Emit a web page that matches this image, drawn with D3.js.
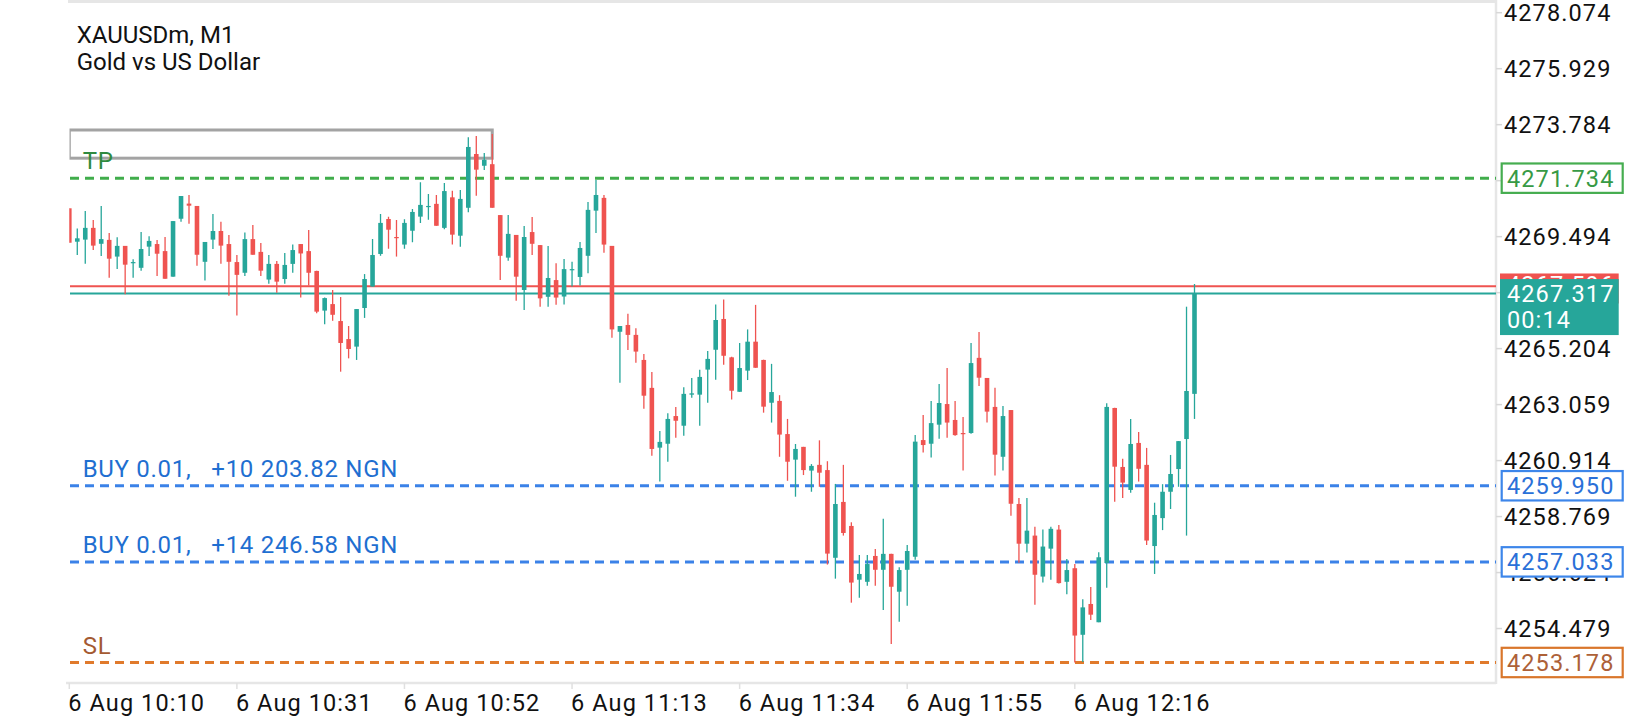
<!DOCTYPE html>
<html>
<head>
<meta charset="utf-8">
<script src="https://cdn.jsdelivr.net/npm/d3@7"></script>
<style>
html,body{margin:0;padding:0;background:#fff;}
text{font-family:Roboto,"Noto Sans",sans-serif;}
</style>
</head>
<body>
<svg id="chart" width="1640" height="720"></svg>
<script>
// M1 candles, 6 Aug 10:10 -> 12:31
var openP=[4270.58,4269.30,4269.38,4269.83,4269.22,4269.37,4268.73,4269.14,4268.50,4268.30,
4269.11,4269.21,4268.94,4267.96,4270.18,4270.76,4270.67,4268.53,4269.38,4269.71,
4269.21,4268.52,4268.11,4269.40,4268.91,4267.85,4268.45,4267.87,4268.45,4269.21,
4268.94,4268.18,4266.66,4266.91,4266.26,4265.57,4265.28,4266.76,4267.58,4268.83,
4270.17,4269.48,4269.19,4269.72,4270.26,4270.64,4270.75,4269.83,4271.00,4269.53,
4270.60,4272.66,4272.21,4272.27,4270.32,4268.69,4269.56,4267.45,4269.67,4269.17,
4267.19,4267.83,4267.20,4268.23,4267.95,4268.76,4270.49,4270.98,4269.14,4265.85,
4266.11,4265.73,4264.77,4263.70,4261.41,4261.56,4262.62,4262.25,4263.44,4263.44,
4264.40,4265.16,4266.34,4264.87,4263.55,4264.36,4265.47,4264.77,4263.13,4263.20,
4261.93,4260.95,4261.44,4260.53,4260.75,4260.55,4257.19,4259.33,4258.41,4256.35,
4256.27,4257.26,4256.73,4257.34,4255.89,4256.73,4257.23,4261.70,4261.56,4262.29,
4263.08,4262.47,4261.97,4261.97,4264.85,4264.08,4262.97,4261.06,4262.85,4259.25,
4257.73,4258.04,4256.47,4257.54,4258.27,4256.27,4256.79,4254.24,4255.42,4254.72,
4256.99,4262.93,4260.67,4259.79,4261.59,4260.75,4257.64,4258.71,4259.72,4260.59,
4261.74,4263.47];
var highP=[4270.58,4269.81,4270.48,4270.13,4270.67,4269.63,4269.47,4269.14,4268.63,4269.67,
4269.51,4269.37,4269.48,4270.09,4271.05,4271.09,4270.67,4269.29,4270.36,4270.06,
4269.56,4268.79,4269.65,4269.94,4269.25,4268.79,4268.56,4268.87,4269.19,4269.21,
4269.75,4268.19,4267.16,4267.45,4267.18,4266.07,4266.72,4268.06,4269.40,4270.36,
4270.26,4270.13,4270.16,4270.55,4271.58,4271.13,4271.09,4271.55,4271.25,4271.28,
4273.30,4273.35,4272.70,4273.43,4270.32,4270.32,4269.56,4269.90,4270.25,4269.17,
4269.14,4268.47,4268.64,4268.53,4269.29,4270.82,4271.66,4271.09,4269.14,4266.07,
4266.54,4265.98,4265.00,4264.31,4262.05,4262.73,4262.97,4263.72,4264.08,4264.39,
4265.11,4266.89,4267.09,4264.89,4265.42,4265.94,4266.88,4264.78,4264.62,4263.42,
4262.51,4261.55,4261.44,4260.78,4261.69,4260.89,4260.02,4260.75,4258.55,4257.30,
4257.30,4257.53,4258.69,4257.34,4256.83,4257.68,4261.89,4262.66,4263.20,4263.85,
4264.46,4263.20,4262.58,4265.42,4265.84,4264.08,4263.70,4263.01,4262.85,4259.48,
4259.48,4258.38,4258.27,4258.38,4258.45,4257.14,4256.95,4255.60,4256.07,4257.40,
4263.11,4262.94,4260.98,4262.51,4262.01,4261.40,4259.30,4260.01,4261.13,4261.66,
4266.81,4267.68];
var lowP=[4269.26,4268.79,4268.46,4268.98,4268.75,4267.92,4268.25,4267.29,4267.92,4268.19,
4268.75,4267.99,4267.88,4267.96,4270.06,4269.99,4268.38,4267.81,4269.02,4268.46,
4267.23,4266.47,4267.99,4268.80,4267.99,4267.69,4267.34,4267.69,4268.11,4267.16,
4267.62,4266.56,4266.14,4266.27,4264.32,4264.83,4264.77,4266.38,4267.58,4268.76,
4269.03,4268.73,4269.03,4269.28,4270.02,4270.14,4269.91,4269.78,4269.19,4269.11,
4270.43,4271.06,4272.05,4270.60,4267.83,4268.57,4267.04,4266.68,4268.79,4266.81,
4266.81,4266.88,4266.89,4267.58,4267.62,4268.09,4269.63,4268.88,4265.62,4263.90,
4265.15,4264.66,4262.90,4261.10,4260.11,4260.87,4261.79,4261.87,4263.32,4262.25,
4263.13,4264.01,4264.59,4263.25,4263.55,4264.00,4264.47,4262.75,4262.37,4261.06,
4260.14,4259.53,4260.36,4259.72,4259.91,4256.93,4256.39,4258.04,4255.47,4255.66,
4256.12,4256.12,4255.19,4253.89,4254.74,4255.35,4257.11,4261.22,4261.03,4261.75,
4261.79,4261.87,4260.53,4261.94,4263.77,4262.37,4260.34,4260.53,4258.80,4257.00,
4257.39,4255.39,4256.24,4256.35,4256.20,4255.79,4253.18,4253.20,4254.81,4254.72,
4256.04,4259.34,4259.48,4259.68,4260.11,4257.68,4256.57,4258.25,4259.06,4259.91,
4258.04,4262.51];
var closeP=[4269.26,4269.43,4269.83,4269.15,4269.40,4268.65,4269.14,4268.42,4268.52,4269.02,
4269.33,4268.84,4267.88,4270.09,4271.05,4270.68,4268.80,4269.29,4269.71,4269.15,
4268.53,4268.03,4269.40,4268.80,4268.19,4268.45,4267.77,4268.41,4268.98,4268.85,
4268.11,4266.62,4267.14,4266.50,4265.42,4265.19,4266.72,4267.87,4268.79,4270.02,
4269.76,4269.45,4270.02,4270.44,4270.71,4270.67,4269.91,4271.24,4269.57,4270.94,
4272.93,4272.06,4272.44,4270.60,4268.76,4269.60,4267.96,4269.48,4269.22,4267.13,
4267.91,4267.16,4268.25,4268.25,4269.06,4270.52,4271.09,4269.19,4265.94,4266.07,
4265.73,4265.09,4263.40,4261.36,4261.63,4262.51,4262.44,4263.47,4263.49,4264.12,
4264.81,4266.30,4264.93,4263.59,4264.46,4265.47,4264.47,4262.98,4263.54,4261.91,
4260.87,4261.36,4260.55,4260.71,4260.45,4257.35,4259.25,4258.14,4256.24,4256.57,
4256.95,4256.73,4257.34,4256.08,4256.72,4257.45,4261.64,4261.51,4262.35,4263.12,
4262.37,4261.89,4261.94,4264.65,4264.09,4262.79,4261.14,4262.62,4259.26,4257.73,
4258.23,4256.54,4257.62,4258.30,4256.22,4256.72,4254.21,4255.29,4255.01,4257.21,
4262.97,4260.68,4260.07,4261.55,4260.60,4257.85,4258.83,4259.72,4260.40,4261.66,
4263.58,4267.317];

var priceTicks=[4278.074,4275.929,4273.784,4271.639,4269.494,4267.349,4265.204,4263.059,4260.914,4258.769,4256.624,4254.479];
var timeTickIdx=[0,21,42,63,84,105,126];
var timeTickLabels=["6 Aug 10:10","6 Aug 10:31","6 Aug 10:52","6 Aug 11:13","6 Aug 11:34","6 Aug 11:55","6 Aug 12:16"];

// order levels
var levelPrice=[4271.734,4259.950,4257.033,4253.178];
var levelText=["TP","BUY 0.01,   +10 203.82 NGN","BUY 0.01,   +14 246.58 NGN","SL"];
var levelKind=["tp","buy","buy","sl"];

// grey rectangle object (candle index from/to, prices)
var rectIdx=[0,53];
var rectPrice=[4273.58,4272.50];

var bidPrice=4267.317, askPrice=4267.596, barTimer="00:14";

var styles={
    tp:{line:"#40ad4b",text:"#2f8a40",box:"#46ad50",boxText:"#379a45"},
    buy:{line:"#3b82e8",text:"#1f6fd1",box:"#3d86ea",boxText:"#2a70d8"},
    sl:{line:"#e07a2c",text:"#a45a32",box:"#d9762b",boxText:"#ad6138"}
};
var UP="#26a69a", DOWN="#ef5350";

var svg=d3.select("#chart");
var axisX=1496, plotLeft=69.5, plotBottom=683;
var x=d3.scaleLinear().domain([0,141]).range([69.3,1194.5]);
var y=d3.scaleLinear().domain([4253.178,4278.074]).range([662.5,12.7]);
var fmt=d3.format(".3f");
var fontSize=23.5, ls="1.1px";

svg.append("rect").attr("width",1640).attr("height",720).attr("fill","#fff");

// frame
svg.append("line").attr("x1",68).attr("x2",axisX).attr("y1",1.5).attr("y2",1.5).attr("stroke","#e6e6e6").attr("stroke-width",3);
svg.append("line").attr("x1",66).attr("x2",axisX).attr("y1",plotBottom).attr("y2",plotBottom).attr("stroke","#e6e6e6").attr("stroke-width",2.5);
svg.append("line").attr("x1",axisX).attr("x2",axisX).attr("y1",0).attr("y2",plotBottom+1).attr("stroke","#e6e6e6").attr("stroke-width",2.5);

// title
svg.append("text").attr("x",76.7).attr("y",42.7).attr("font-size",24).attr("fill","#111").text("XAUUSDm, M1");
svg.append("text").attr("x",76.7).attr("y",70).attr("font-size",24).attr("fill","#111").text("Gold vs US Dollar");

svg.append("clipPath").attr("id","plotclip").append("rect")
    .attr("x",plotLeft).attr("y",3).attr("width",axisX-plotLeft).attr("height",plotBottom-3);
var plot=svg.append("g").attr("clip-path","url(#plotclip)");

// grey rectangle
plot.append("rect")
    .attr("x",x(rectIdx[0])).attr("y",y(rectPrice[0]))
    .attr("width",x(rectIdx[1])-x(rectIdx[0])).attr("height",y(rectPrice[1])-y(rectPrice[0]))
    .attr("fill","none").attr("stroke","#a3a3a3").attr("stroke-width",3);

// level lines + labels
levelPrice.forEach(function(p,i){
    var st=styles[levelKind[i]];
    plot.append("line").attr("x1",70).attr("x2",axisX).attr("y1",y(p)).attr("y2",y(p))
        .attr("stroke",st.line).attr("stroke-width",3).attr("stroke-dasharray","9 6");
    svg.append("text").attr("x",82.7).attr("y",y(p)-8.7).attr("font-size",24).attr("letter-spacing","0.7px")
        .attr("fill",st.text).style("white-space","pre").attr("xml:space","preserve").text(levelText[i]);
});

// ask / bid lines
plot.append("line").attr("x1",70).attr("x2",axisX).attr("y1",y(askPrice)).attr("y2",y(askPrice)).attr("stroke",DOWN).attr("stroke-width",2);
plot.append("line").attr("x1",70).attr("x2",axisX).attr("y1",y(bidPrice)).attr("y2",y(bidPrice)).attr("stroke",UP).attr("stroke-width",2);

// candles
var bw=4.6;
var candles=plot.selectAll("g.candle").data(d3.range(openP.length)).enter().append("g").attr("class","candle");
candles.append("line")
    .attr("x1",function(i){return x(i);}).attr("x2",function(i){return x(i);})
    .attr("y1",function(i){return y(highP[i]);}).attr("y2",function(i){return y(lowP[i]);})
    .attr("stroke",function(i){return closeP[i]>=openP[i]?UP:DOWN;}).attr("stroke-width",1.3);
candles.append("rect")
    .attr("x",function(i){return x(i)-bw/2;}).attr("width",bw)
    .attr("y",function(i){return y(Math.max(openP[i],closeP[i]));})
    .attr("height",function(i){return Math.max(1.2,Math.abs(y(openP[i])-y(closeP[i])));})
    .attr("fill",function(i){return closeP[i]>=openP[i]?UP:DOWN;});

// price axis
var pt=svg.append("g");
priceTicks.forEach(function(p){
    pt.append("line").attr("x1",axisX).attr("x2",axisX+6).attr("y1",y(p)).attr("y2",y(p)).attr("stroke","#d8d8d8").attr("stroke-width",1.5);
    pt.append("text").attr("x",1504).attr("y",y(p)).attr("dy","0.36em").attr("font-size",fontSize).attr("letter-spacing",ls)
        .attr("fill","#111").text(fmt(p));
});

// time axis
timeTickIdx.forEach(function(idx,k){
    svg.append("line").attr("x1",x(idx)).attr("x2",x(idx)).attr("y1",plotBottom).attr("y2",plotBottom+6).attr("stroke","#e0e0e0").attr("stroke-width",1.5);
    svg.append("text").attr("x",x(idx)-1).attr("y",711).attr("font-size",fontSize).attr("letter-spacing",ls)
        .attr("fill","#111").text(timeTickLabels[k]);
});

// level boxes on the axis
levelPrice.forEach(function(p,i){
    var st=styles[levelKind[i]];
    svg.append("rect").attr("x",1501.7).attr("y",y(p)-14.7).attr("width",121).attr("height",29.4)
        .attr("fill","#fff").attr("stroke",st.box).attr("stroke-width",2.2);
    svg.append("text").attr("x",1507).attr("y",y(p)).attr("dy","0.36em").attr("font-size",fontSize).attr("letter-spacing",ls)
        .attr("fill",st.boxText).text(fmt(p));
});

// ask box (mostly hidden) and bid box with bar timer
svg.append("rect").attr("x",1500).attr("y",y(askPrice)-12.7).attr("width",118.7).attr("height",30).attr("fill",DOWN);
svg.append("text").attr("x",1507).attr("y",y(askPrice)+6.5).attr("font-size",fontSize).attr("letter-spacing",ls).attr("fill","#fff").text(fmt(askPrice));
svg.append("rect").attr("x",1500).attr("y",y(bidPrice)-14.4).attr("width",118.7).attr("height",56).attr("fill",UP);
svg.append("text").attr("x",1507).attr("y",y(bidPrice)+9).attr("font-size",fontSize).attr("letter-spacing",ls).attr("fill","#fff").text(fmt(bidPrice));
svg.append("text").attr("x",1507).attr("y",y(bidPrice)+35).attr("font-size",fontSize).attr("letter-spacing",ls).attr("fill","#fff").text(barTimer);
</script>
</body>
</html>
